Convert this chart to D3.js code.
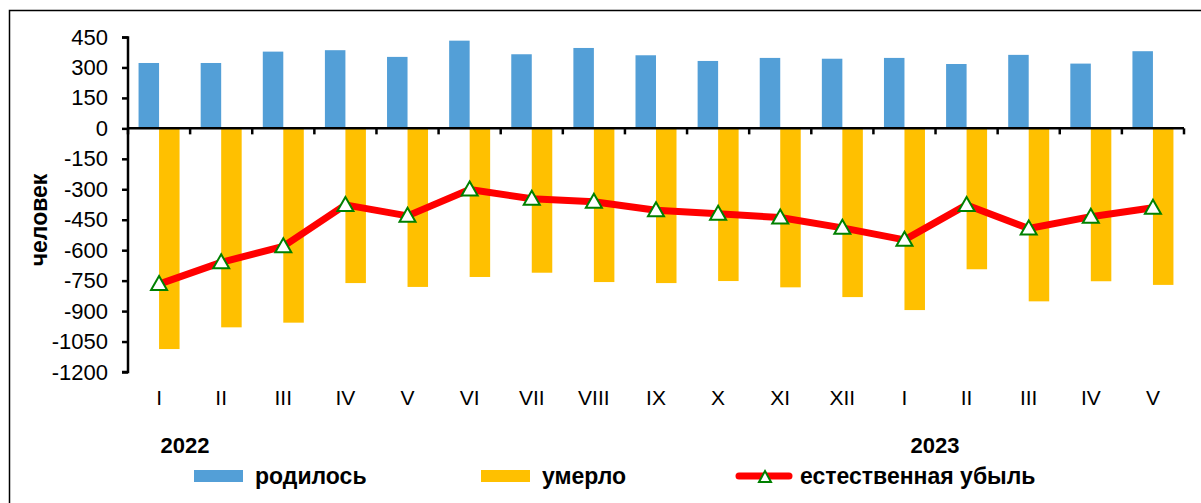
<!DOCTYPE html>
<html>
<head>
<meta charset="utf-8">
<script src="https://cdn.jsdelivr.net/npm/d3@7"></script>
<style>
  body { margin: 0; background: #fff; }
  svg { display: block; font-family: "Liberation Sans", Arial, sans-serif; }
</style>
</head>
<body>
<script>
// months (roman numerals), 2022-I .. 2023-V
var months = ["I", "II", "III", "IV", "V", "VI", "VII", "VIII", "IX", "X", "XI", "XII",
              "I", "II", "III", "IV", "V"];
var born = [322, 322, 378, 385, 352, 432, 365, 396, 360, 332, 347, 343, 347, 317, 362, 319, 380];
var died = [-1087, -980, -957, -762, -781, -732, -711, -757, -762, -752, -783, -831, -895, -694, -852, -753, -771];
var decrease = [-767, -660, -581, -377, -431, -301, -347, -361, -403, -421, -439, -490, -549, -377, -493, -435, -391];
var yTicks = [450, 300, 150, 0, -150, -300, -450, -600, -750, -900, -1050, -1200];

var width = 1201,
    height = 503,
    marginLeft = 128,
    marginTop = 37,
    chartWidth = 1184 - marginLeft,
    chartHeight = 372 - marginTop;

var svg = d3.select("body")
    .append("svg")
    .attr("width", width)
    .attr("height", height);

// outer frame (only top and left are visible in the picture)
svg.append("rect")
    .attr("x", 9.5).attr("y", 10.5)
    .attr("width", 1300).attr("height", 600)
    .attr("fill", "none")
    .attr("stroke", "#000")
    .attr("stroke-width", 1.5);

var chart = svg.append("g")
    .attr("transform", "translate(" + marginLeft + "," + marginTop + ")");

var xScale = d3.scaleBand()
    .domain(d3.range(months.length))
    .range([0, chartWidth]);

var yScale = d3.scaleLinear()
    .domain([-1200, 450])
    .range([chartHeight, 0]);

var barW = 20.5;

// births
chart.selectAll("rect.born")
    .data(born)
    .enter()
    .append("rect")
        .attr("class", "born")
        .attr("x", function(d, i) { return xScale(i) + xScale.bandwidth() / 2 - barW; })
        .attr("y", function(d) { return yScale(d); })
        .attr("width", barW)
        .attr("height", function(d) { return yScale(0) - yScale(d); })
        .attr("fill", "#539fd7");

// deaths
chart.selectAll("rect.died")
    .data(died)
    .enter()
    .append("rect")
        .attr("class", "died")
        .attr("x", function(d, i) { return xScale(i) + xScale.bandwidth() / 2; })
        .attr("y", yScale(0))
        .attr("width", barW)
        .attr("height", function(d) { return yScale(d) - yScale(0); })
        .attr("fill", "#ffc000");

// y axis
var yAxis = d3.axisLeft(yScale)
    .tickValues(yTicks)
    .tickSize(6)
    .tickPadding(14)
    .tickFormat(d3.format("d"));

var yG = chart.append("g").call(yAxis);
yG.select(".domain").attr("stroke-width", 2.5).attr("d", "M-6,0.5H0V" + chartHeight + "H-6");
yG.selectAll(".tick line").attr("stroke-width", 2.5);
yG.selectAll(".tick text")
    .style("font-size", "22px")
    .attr("fill", "#000")
    .text(function(d) { return d < 0 ? "-" + Math.abs(d) : d; });

// zero line with ticks at band edges
var zeroG = chart.append("g").attr("transform", "translate(0," + yScale(0) + ")");
zeroG.append("line")
    .attr("x1", 0).attr("x2", chartWidth)
    .attr("stroke", "#000").attr("stroke-width", 2.5);
zeroG.selectAll("line.tk")
    .data(d3.range(months.length + 1))
    .enter()
    .append("line")
        .attr("class", "tk")
        .attr("x1", function(d) { return d * xScale.step(); })
        .attr("x2", function(d) { return d * xScale.step(); })
        .attr("y1", 0).attr("y2", 6)
        .attr("stroke", "#000").attr("stroke-width", 2.5);

// month labels
chart.selectAll("text.month")
    .data(months)
    .enter()
    .append("text")
        .attr("class", "month")
        .attr("x", function(d, i) { return xScale(i) + xScale.bandwidth() / 2; })
        .attr("y", 368)
        .attr("text-anchor", "middle")
        .style("font-size", "21px")
        .text(function(d) { return d; });

// years
svg.append("text").attr("x", 185).attr("y", 453).attr("text-anchor", "middle")
    .style("font-size", "22px").style("font-weight", "bold").text("2022");
svg.append("text").attr("x", 935).attr("y", 453).attr("text-anchor", "middle")
    .style("font-size", "22px").style("font-weight", "bold").text("2023");

// line
var line = d3.line()
    .x(function(d, i) { return xScale(i) + xScale.bandwidth() / 2; })
    .y(function(d) { return yScale(d); });

chart.append("path")
    .datum(decrease)
    .attr("d", line)
    .attr("fill", "none")
    .attr("stroke", "#ff0000")
    .attr("stroke-width", 7)
    .attr("stroke-linejoin", "round");

var tri = "M0,-8L8,6L-8,6Z";
chart.selectAll("path.mk")
    .data(decrease)
    .enter()
    .append("path")
        .attr("class", "mk")
        .attr("d", tri)
        .attr("transform", function(d, i) {
            return "translate(" + (xScale(i) + xScale.bandwidth() / 2) + "," + yScale(d) + ")";
        })
        .attr("fill", "#fff")
        .attr("stroke", "#008000")
        .attr("stroke-width", 2);

// y label
svg.append("text")
    .attr("transform", "translate(47,220) rotate(-90)")
    .attr("text-anchor", "middle")
    .style("font-size", "23px")
    .style("font-weight", "bold")
    .text("человек");

// legend
var legY = 476;
svg.append("rect").attr("x", 194).attr("y", legY - 6).attr("width", 49).attr("height", 12).attr("fill", "#539fd7");
svg.append("text").attr("x", 255).attr("y", legY + 8).style("font-size", "23px").style("font-weight", "bold").text("родилось");
svg.append("rect").attr("x", 481).attr("y", legY - 6).attr("width", 49).attr("height", 12).attr("fill", "#ffc000");
svg.append("text").attr("x", 542).attr("y", legY + 8).style("font-size", "23px").style("font-weight", "bold").text("умерло");
svg.append("line").attr("x1", 739).attr("x2", 789).attr("y1", legY).attr("y2", legY)
    .attr("stroke", "#ff0000").attr("stroke-width", 7).attr("stroke-linecap", "round");
svg.append("path").attr("d", "M0,-5L6,6L-6,6Z").attr("transform", "translate(765," + legY + ")")
    .attr("fill", "#fff").attr("stroke", "#008000").attr("stroke-width", 2);
svg.append("text").attr("x", 800).attr("y", legY + 8).style("font-size", "23px").style("font-weight", "bold").text("естественная убыль");
</script>
</body>
</html>
